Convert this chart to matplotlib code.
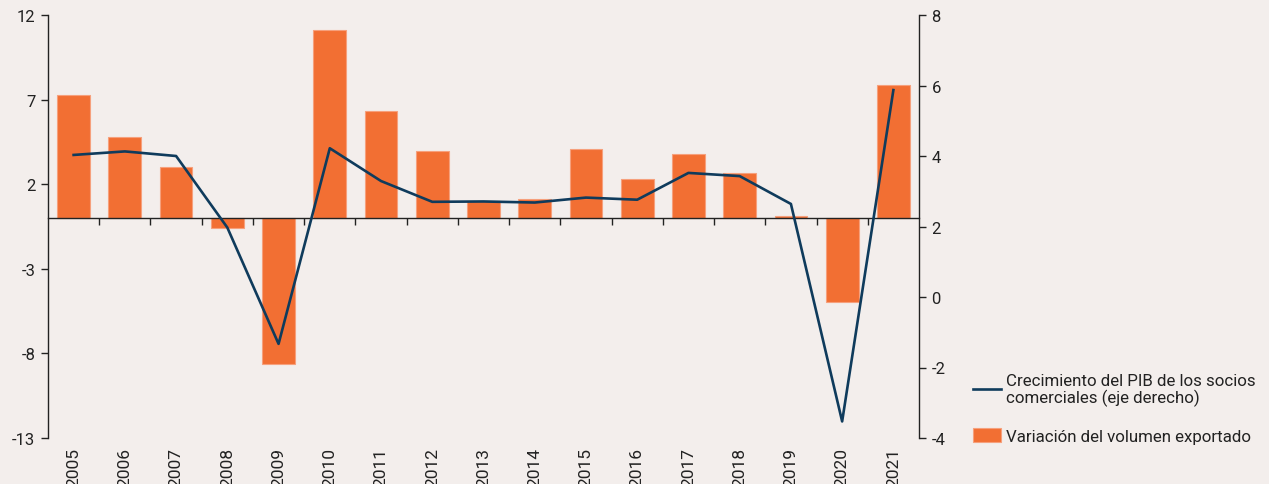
import matplotlib
matplotlib.use("Agg")
import matplotlib.pyplot as plt
import matplotlib.transforms as mtransforms
import numpy as np

years = ["2005", "2006", "2007", "2008", "2009", "2010", "2011", "2012", "2013",
         "2014", "2015", "2016", "2017", "2018", "2019", "2020", "2021"]
export_volume = [7.3, 4.8, 3.0, -0.6, -8.65, 11.1, 6.3, 3.95, 1.0, 1.1, 4.1,
                 2.3, 3.8, 2.65, 0.1, -4.95, 7.85]
gdp_partners = [4.03, 4.13, 4.0, 1.97, -1.33, 4.22, 3.29, 2.70, 2.71, 2.68,
                2.82, 2.76, 3.52, 3.43, 2.64, -3.53, 5.87]
left_ticks = [12, 7, 2, -3, -8, -13]
right_ticks = [-4, -2, 0, 2, 4, 6, 8]

label_line = "Crecimiento del PIB de los socios\ncomerciales (eje derecho)"
label_bar = "Variación del volumen exportado"

plt.rcParams['font.family'] = ['Roboto', 'DejaVu Sans']
plt.rcParams['font.size'] = 12
plt.rcParams['axes.unicode_minus'] = False

bg = "#f3eeec"
orange = "#f26f33"
navy = "#0f3b5c"
ink = "#222222"

fig = plt.figure(figsize=(12.69, 4.85), dpi=100, facecolor=bg)
ax = fig.add_axes([48/1269, 1-439/485, (919-48)/1269, (439-16)/485])
ax.set_facecolor(bg)
x = np.arange(len(years))

bars = ax.bar(x, export_volume, width=0.64, color=orange, edgecolor="#f6a07c",
              linewidth=0.8, label=label_bar, zorder=2)
ax.set_xlim(-0.5, len(years) - 0.5)
ax.set_ylim(-13, 12)
ax.set_yticks(left_ticks)
ax.tick_params(axis='y', direction='out', length=5, width=1, pad=4,
               labelsize=12, colors=ink)

for s in ['top', 'right']:
    ax.spines[s].set_visible(False)
ax.spines['left'].set_linewidth(1)
ax.spines['left'].set_color(ink)
ax.spines['bottom'].set_position(('data', 0))
ax.spines['bottom'].set_linewidth(1)
ax.spines['bottom'].set_color(ink)
ax.spines['bottom'].set_zorder(4)
ax.set_xticks(x)
ax.set_xticklabels([])
ax.tick_params(axis='x', which='major', length=0)
ax.set_xticks(np.arange(0.5, len(years) - 1, 1.0), minor=True)
ax.tick_params(axis='x', which='minor', direction='out', length=5, width=1,
               colors=ink)

trans = mtransforms.blended_transform_factory(ax.transData, ax.transAxes)
for xi, yr in zip(x, years):
    ax.text(xi, -0.022, yr, transform=trans, rotation=90, ha='center', va='top',
            fontsize=12.5, color=ink)

ax2 = ax.twinx()
ax2.set_ylim(-4, 8)
ax2.set_yticks(right_ticks)
for s in ['top', 'left', 'bottom']:
    ax2.spines[s].set_visible(False)
ax2.spines['right'].set_linewidth(1)
ax2.spines['right'].set_color(ink)
ax2.tick_params(axis='y', direction='out', length=5, width=1, pad=4,
                labelsize=12, colors=ink)
line, = ax2.plot(x, gdp_partners, color=navy, linewidth=1.9, label=label_line,
                 zorder=3)

leg = fig.legend([line, bars], [label_line, label_bar], loc='upper left',
                 bbox_to_anchor=(973/1269, 1-374/485), frameon=False,
                 fontsize=12.2, handlelength=1.65, handleheight=0.9,
                 handletextpad=0.3, labelspacing=1.3, borderaxespad=0,
                 borderpad=0)
for t in leg.get_texts():
    t.set_color(ink)
    t.set_linespacing(1.05)

fig.savefig("out.png", dpi=100, facecolor=bg)
